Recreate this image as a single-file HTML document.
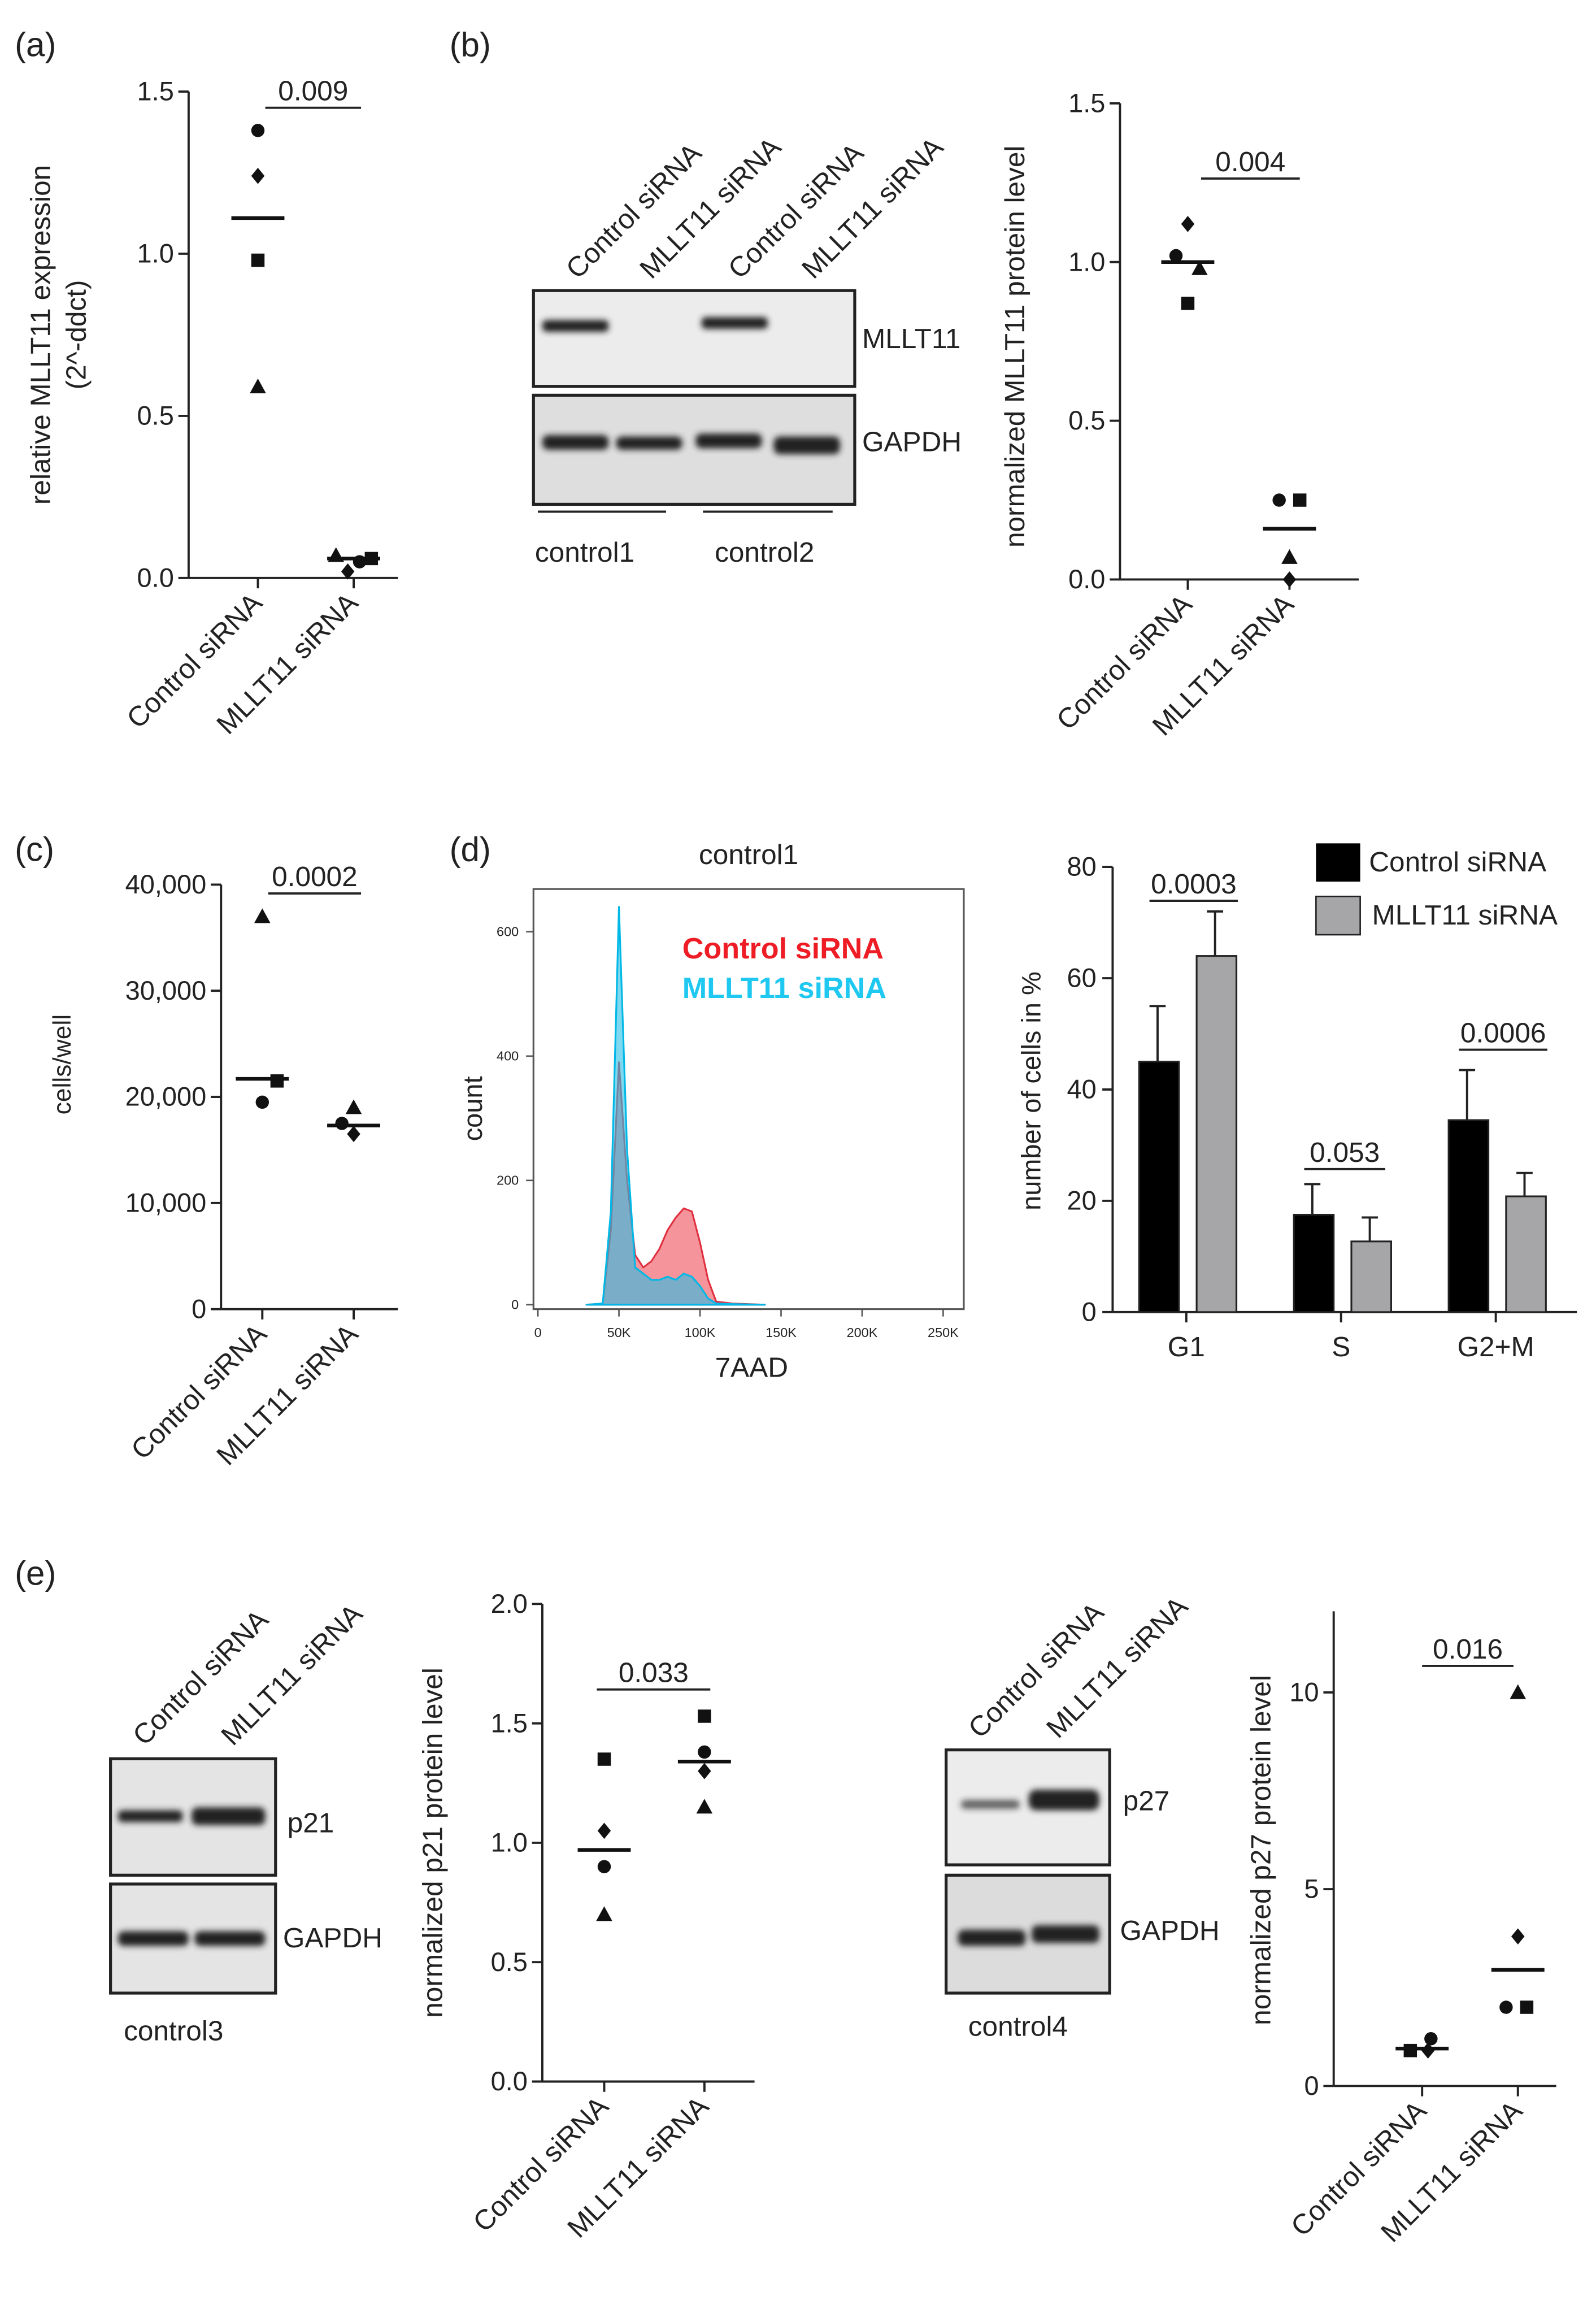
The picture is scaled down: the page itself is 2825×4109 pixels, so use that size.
<!DOCTYPE html>
<html><head><meta charset="utf-8"><style>
html,body{margin:0;padding:0;background:#fff}
svg{display:block}
text{font-family:"Liberation Sans",sans-serif;fill:#222}
</style></head><body>
<svg id="fig" xmlns="http://www.w3.org/2000/svg" width="2825" height="4109" viewBox="0 0 1083 1575">
<defs><filter id="blur"><feGaussianBlur stdDeviation="2"/></filter></defs>
<g font-size="23">
<text x="10" y="38">(a)</text>
<text x="305" y="38">(b)</text>
<text x="10" y="584">(c)</text>
<text x="305" y="584">(d)</text>
<text x="10" y="1075">(e)</text>
</g>
<!-- blots -->
<g>
<rect x="362" y="197" width="218" height="65" fill="#ececec" stroke="#222" stroke-width="2"/>
<rect x="362" y="268" width="218" height="74" fill="#dedede" stroke="#222" stroke-width="2"/>
<g filter="url(#blur)" fill="#222">
<rect x="368" y="217" width="45" height="8" rx="3"/><rect x="476" y="215" width="45" height="8" rx="3"/>
<rect x="368" y="295" width="45" height="10" rx="4"/><rect x="418" y="296" width="45" height="9" rx="4"/>
<rect x="472" y="294" width="45" height="10" rx="4"/><rect x="525" y="296" width="45" height="12" rx="4"/>
</g>
<text x="585" y="236" font-size="19">MLLT11</text>
<text x="585" y="306" font-size="19">GAPDH</text>
<line x1="365" y1="347" x2="452" y2="347" stroke="#222" stroke-width="1.5"/>
<line x1="477" y1="347" x2="565" y2="347" stroke="#222" stroke-width="1.5"/>
<text x="363" y="381" font-size="19">control1</text>
<text x="485" y="381" font-size="19">control2</text>
<g font-size="19">
<text transform="translate(392,190) rotate(-45)">Control siRNA</text>
<text transform="translate(442,190) rotate(-45)">MLLT11 siRNA</text>
<text transform="translate(502,190) rotate(-45)">Control siRNA</text>
<text transform="translate(552,190) rotate(-45)">MLLT11 siRNA</text>
</g></g>
<g>
<rect x="75" y="1193" width="112" height="79" fill="#e4e4e4" stroke="#222" stroke-width="2"/>
<rect x="75" y="1278" width="112" height="74" fill="#e4e4e4" stroke="#222" stroke-width="2"/>
<g filter="url(#blur)" fill="#222"><rect x="80" y="1228" width="44" height="8" rx="3"/><rect x="130" y="1226" width="50" height="12" rx="4"/>
<rect x="80" y="1310" width="48" height="10" rx="4"/><rect x="132" y="1310" width="48" height="10" rx="4"/></g>
<text x="195" y="1243" font-size="19">p21</text>
<text x="192" y="1321" font-size="19">GAPDH</text>
<text x="84" y="1384" font-size="19">control3</text>
<text transform="translate(98,1185) rotate(-45)" font-size="19">Control siRNA</text>
<text transform="translate(158,1185) rotate(-45)" font-size="19">MLLT11 siRNA</text>
</g>
<g>
<rect x="642" y="1187" width="111" height="78" fill="#ececec" stroke="#222" stroke-width="2"/>
<rect x="642" y="1272" width="111" height="80" fill="#dcdcdc" stroke="#222" stroke-width="2"/>
<g filter="url(#blur)" fill="#222"><rect x="652" y="1221" width="40" height="6" rx="3" opacity="0.7"/><rect x="698" y="1214" width="48" height="14" rx="5"/>
<rect x="650" y="1309" width="46" height="11" rx="4"/><rect x="700" y="1306" width="46" height="12" rx="4"/></g>
<text x="762" y="1228" font-size="19">p27</text>
<text x="760" y="1316" font-size="19">GAPDH</text>
<text x="657" y="1381" font-size="19">control4</text>
<text transform="translate(665,1180) rotate(-45)" font-size="19">Control siRNA</text>
<text transform="translate(718,1180) rotate(-45)" font-size="19">MLLT11 siRNA</text>
</g>
<g id="dyn"></g>
</svg>
<script>
// ---- data ----
const aControl=[1.38,1.24,0.98,0.59], aMllt=[0.07,0.02,0.05,0.06], aMeans=[1.11,0.06];
const bControl=[1.12,1.02,0.98,0.87], bMllt=[0.25,0.25,0.07,0.0], bMeans=[1.0,0.16];
const cControl=[37000,21500,19500], cMllt=[19000,17500,16500], cMeans=[21700,17300];
const p21Control=[1.35,1.05,0.9,0.7], p21Mllt=[1.53,1.38,1.3,1.15], p21Means=[0.97,1.34];
const p27Control=[1.2,0.9,0.9], p27Mllt=[10,3.8,2.0,2.0], p27Means=[0.95,2.95];
const cycleCats=["G1","S","G2+M"];
const cycleControl=[45,17.5,34.5], cycleControlErr=[10,5.5,9];
const cycleMllt=[64,12.7,20.8], cycleMlltErr=[8,4.3,4.2];
const histBins=[30,40,45,50,55,60,65,70,75,80,85,90,95,100,105,110,120,140];
const histControl=[0,2,120,390,200,80,60,70,90,120,140,155,150,100,40,5,2,0];
const histMllt=[0,2,150,640,250,60,50,40,40,45,40,50,45,30,10,2,1,0];
const histTicks=[0,50,100,150,200,250], histTickLabels=["0","50K","100K","150K","200K","250K"];
const histYTicks=[0,200,400,600];

const NS="http://www.w3.org/2000/svg", root=document.getElementById('dyn');
function el(tag,attrs,parent,txt){const e=document.createElementNS(NS,tag);for(const k in attrs)e.setAttribute(k,attrs[k]);if(txt!==undefined)e.textContent=txt;(parent||root).appendChild(e);return e;}
function marker(g,shape,x,y,s){
  s=s||4.5;
  if(shape==='circle')return el('circle',{cx:x,cy:y,r:s,fill:'#111'},g);
  if(shape==='square')return el('rect',{x:x-s,y:y-s,width:2*s,height:2*s,fill:'#111'},g);
  if(shape==='triangle')return el('polygon',{points:`${x},${y-s-1} ${x-s-1},${y+s} ${x+s+1},${y+s}`,fill:'#111'},g);
  return el('polygon',{points:`${x},${y-s-1} ${x+s},${y} ${x},${y+s+1} ${x-s},${y}`,fill:'#111'},g);
}
function scatter(cfg){
  const g=el('g',{});
  
  
  const ys=v=>cfg.y0-(v-cfg.vmin)/(cfg.vmax-cfg.vmin)*(cfg.y0-cfg.y1);
  el('line',{x1:cfg.ax,y1:cfg.axTop||cfg.y1,x2:cfg.ax,y2:cfg.y0,stroke:'#222','stroke-width':1.5},g);
  el('line',{x1:cfg.ax,y1:cfg.y0,x2:cfg.axEnd,y2:cfg.y0,stroke:'#222','stroke-width':1.5},g);
  cfg.ticks.forEach((t,i)=>{const y=ys(t);
    el('line',{x1:cfg.ax-7,y1:y,x2:cfg.ax,y2:y,stroke:'#222','stroke-width':1.5},g);
    const tx=el('text',{x:cfg.ax-10,y:y+6,'text-anchor':'end','font-size':18},g,cfg.tickLabels[i]);
    
    
  });
  const cats=["Control siRNA","MLLT11 siRNA"];
  cfg.cx.forEach((x,i)=>{
    el('line',{x1:x,y1:cfg.y0,x2:x,y2:cfg.y0+7,stroke:'#222','stroke-width':1.5},g);
    const t=el('text',{transform:`translate(${x+4},${cfg.y0+18}) rotate(-45)`,'text-anchor':'end','font-size':19},g,cats[i]);
    
    
  });
  const shapes=['circle','diamond','square','triangle'];
  [cfg.c,cfg.m].forEach((arr,gi)=>{
    arr.forEach((v,i)=>{
      const sh=(cfg.shapes&&cfg.shapes[gi][i])||shapes[i];
      const off=(cfg.offs&&cfg.offs[gi][i])||0;
      const p=marker(g,sh,cfg.cx[gi]+off,ys(v));
      
      
    });
    const ml=el('line',{x1:cfg.cx[gi]-18,y1:ys(cfg.means[gi]),x2:cfg.cx[gi]+18,y2:ys(cfg.means[gi]),stroke:'#111','stroke-width':2.5},g);
    
    
  });
  el('line',{x1:cfg.sig[0],y1:cfg.sig[2],x2:cfg.sig[1],y2:cfg.sig[2],stroke:'#222','stroke-width':1.5},g);
  const st=el('text',{x:(cfg.sig[0]+cfg.sig[1])/2,y:cfg.sig[2]-5,'text-anchor':'middle','font-size':19},g,cfg.p);
  
  
  cfg.ylab.forEach((l,i)=>{
    const yl=el('text',{transform:`translate(${cfg.ylx[i]},${cfg.yly}) rotate(-90)`,'text-anchor':'middle','font-size':cfg.ylfs||19},g,l);
    
    
  });
}
scatter({name:'chart-a',ax:128,axEnd:270,y0:392,y1:62,vmin:0,vmax:1.5,ticks:[0,0.5,1,1.5],tickLabels:['0.0','0.5','1.0','1.5'],
 cx:[175,240],c:aControl,m:aMllt,means:aMeans,shapes:[['circle','diamond','square','triangle'],['triangle','diamond','circle','square']],offs:[[0,0,0,0],[-12,-4,4,12]],
 sig:[180,245,73],p:'0.009',ylab:['relative MLLT11 expression','(2^-ddct)'],ylx:[34,58],yly:227});
scatter({name:'chart-b',ax:760,axEnd:922,y0:393,y1:70,vmin:0,vmax:1.5,ticks:[0,0.5,1,1.5],tickLabels:['0.0','0.5','1.0','1.5'],
 cx:[806,875],c:bControl,m:bMllt,means:bMeans,shapes:[['diamond','circle','triangle','square'],['circle','square','triangle','diamond']],offs:[[0,-8,8,0],[-7,7,0,0]],
 sig:[815,882,121],p:'0.004',ylab:['normalized MLLT11 protein level'],ylx:[695],yly:235});
scatter({name:'chart-c',ax:150,axEnd:270,y0:888,y1:600,vmin:0,vmax:40000,ticks:[0,10000,20000,30000,40000],tickLabels:['0','10,000','20,000','30,000','40,000'],
 cx:[178,240],c:cControl,m:cMllt,means:cMeans,shapes:[['triangle','square','circle'],['triangle','circle','diamond']],offs:[[0,10,0],[0,-8,0]],
 sig:[182,245,606],p:'0.0002',ylab:['cells/well'],ylx:[48],yly:722,ylfs:17});
scatter({name:'chart-p21',ax:368,axEnd:512,y0:1412,y1:1088,vmin:0,vmax:2,ticks:[0,0.5,1,1.5,2],tickLabels:['0.0','0.5','1.0','1.5','2.0'],
 cx:[410,478],c:p21Control,m:p21Mllt,means:p21Means,shapes:[['square','diamond','circle','triangle'],['square','circle','diamond','triangle']],offs:[[0,0,0,0],[0,0,0,0]],
 sig:[405,482,1146],p:'0.033',ylab:['normalized p21 protein level'],ylx:[300],yly:1250});
scatter({name:'chart-p27',ax:905,axEnd:1056,y0:1415,y1:1148,axTop:1093,vmin:0,vmax:10,ticks:[0,5,10],tickLabels:['0','5','10'],
 cx:[965,1030],c:p27Control,m:p27Mllt,means:p27Means,shapes:[['circle','square','diamond'],['triangle','diamond','circle','square']],offs:[[6,-8,4],[0,0,-8,6]],
 sig:[965,1027,1130],p:'0.016',ylab:['normalized p27 protein level'],ylx:[862],yly:1255});

// histogram
(function(){
  const g=el('g',{});
  
  
  const xs=k=>365+k*1.1, ys=c=>885-c*0.4217;
  el('rect',{x:362,y:603,width:292,height:285,fill:'none',stroke:'#555','stroke-width':1.2},g);
  function area(arr,fill,stroke,name){
    let d=`M${xs(histBins[0])},${ys(0)}`;
    histBins.forEach((b,i)=>{d+=` L${xs(b)},${ys(arr[i])}`});
    d+=` L${xs(histBins[histBins.length-1])},${ys(0)} Z`;
    const p=el('path',{d,fill,stroke,'stroke-width':1.2,'stroke-linejoin':'round'},g);
    
    
  }
  area(histControl,'rgba(240,90,100,0.65)','#e03040','histogram-control');
  area(histMllt,'rgba(40,190,230,0.6)','#00b8e6','histogram-mllt11');
  histTicks.forEach((t,i)=>{el('line',{x1:xs(t),y1:888,x2:xs(t),y2:893,stroke:'#555'},g);
    el('text',{x:xs(t),y:907,'text-anchor':'middle','font-size':9},g,histTickLabels[i]);});
  histYTicks.forEach(t=>{el('line',{x1:357,y1:ys(t),x2:362,y2:ys(t),stroke:'#555'},g);
    el('text',{x:352,y:ys(t)+3,'text-anchor':'end','font-size':9},g,String(t));});
  el('text',{x:508,y:586,'text-anchor':'middle','font-size':19},g,'control1');
  el('text',{x:510,y:934,'text-anchor':'middle','font-size':19},g,'7AAD');
  el('text',{transform:'translate(327,752) rotate(-90)','text-anchor':'middle','font-size':18},g,'count');
  el('text',{x:463,y:650,'font-size':20,'font-weight':'bold',fill:'#ee1c25',style:'fill:#ee1c25'},g,'Control siRNA');
  el('text',{x:463,y:677,'font-size':20,'font-weight':'bold',style:'fill:#1ec8f0'},g,'MLLT11 siRNA');
})();

// bar chart
(function(){
  const g=el('g',{});
  
  
  const y0=890,y1=588,ys=v=>y0-v/80*(y0-y1), gx=[805,910,1015];
  el('line',{x1:755,y1:y1,x2:755,y2:y0,stroke:'#222','stroke-width':1.5},g);
  el('line',{x1:755,y1:y0,x2:1070,y2:y0,stroke:'#222','stroke-width':1.5},g);
  [0,20,40,60,80].forEach(t=>{el('line',{x1:748,y1:ys(t),x2:755,y2:ys(t),stroke:'#222','stroke-width':1.5},g);
    el('text',{x:744,y:ys(t)+6,'text-anchor':'end','font-size':18},g,String(t));});
  cycleCats.forEach((c,i)=>{
    el('line',{x1:gx[i],y1:y0,x2:gx[i],y2:y0+7,stroke:'#222','stroke-width':1.5},g);
    el('text',{x:gx[i],y:y0+30,'text-anchor':'middle','font-size':19},g,c);
    [[cycleControl,cycleControlErr,'#000',-32,'bar-control'],[cycleMllt,cycleMlltErr,'#a6a6a8',7,'bar-mllt11']].forEach(([v,e,f,off,nm])=>{
      const x=gx[i]+off;
      el('line',{x1:x+12.5,y1:ys(v[i]+e[i]),x2:x+12.5,y2:ys(v[i]),stroke:'#222','stroke-width':1.5},g);
      el('line',{x1:x+7,y1:ys(v[i]+e[i]),x2:x+18,y2:ys(v[i]+e[i]),stroke:'#222','stroke-width':1.5},g);
      const r=el('rect',{x,y:ys(v[i]),width:27,height:y0-ys(v[i]),fill:f,stroke:'#222','stroke-width':1.2},g);
      
      
    });
  });
  [[780,840,611,'0.0003'],[885,940,793,'0.053'],[990,1050,712,'0.0006']].forEach(s=>{
    el('line',{x1:s[0],y1:s[2],x2:s[1],y2:s[2],stroke:'#222','stroke-width':1.5},g);
    el('text',{x:(s[0]+s[1])/2,y:s[2]-5,'text-anchor':'middle','font-size':19},g,s[3]);});
  el('text',{transform:'translate(706,740) rotate(-90)','text-anchor':'middle','font-size':18},g,'number of cells in %');
  el('rect',{x:893,y:572,width:30,height:26,fill:'#000'},g);
  el('rect',{x:893,y:608,width:30,height:26,fill:'#a6a6a8',stroke:'#222'},g);
  el('text',{x:929,y:591,'font-size':19},g,'Control siRNA');
  el('text',{x:931,y:627,'font-size':19},g,'MLLT11 siRNA');
})();
</script>
</body></html>
